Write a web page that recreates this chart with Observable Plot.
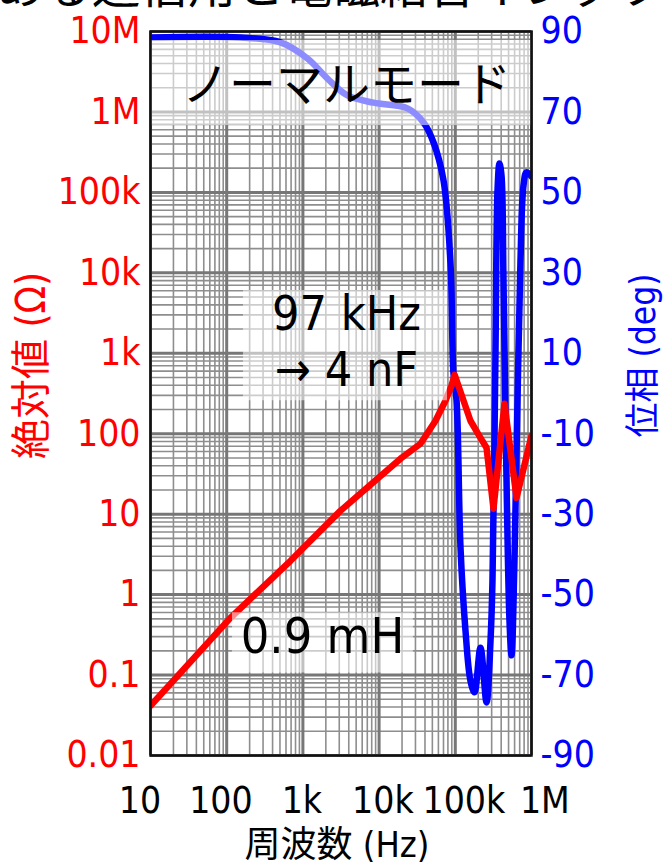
<!DOCTYPE html>
<html><head><meta charset="utf-8">
<script src="https://cdn.jsdelivr.net/npm/d3@7"></script>
<script src="https://cdn.jsdelivr.net/npm/@observablehq/plot@0.6"></script>
<style>
html,body{margin:0;padding:0;background:#fff;overflow:hidden;width:665px;height:864px}
#wrap{position:relative;width:665px;height:864px}
#title{position:absolute;left:-4px;top:-35px;font:48px/34px "Noto Sans CJK JP";white-space:nowrap;color:#000;z-index:2}
#chart{position:absolute;left:0;top:0}
</style></head><body>
<div id="wrap"><div id="chart"></div><div id="title">ある通信用と電磁結合インダクタ</div></div>
<script>
// ---- data ----
const freqRed = [10, 112, 688, 3100, 19100, 34900, 55000, 74300, 89100, 98000, 158000, 214000, 257000, 317000, 442000, 636000, 1000000];
const impedance = [0.0414, 0.514, 2.63, 11, 48.9, 75, 145, 257, 395, 540, 145, 89, 67, 11.7, 236, 16, 94];

const freqBlue = [10, 152, 508, 1148, 2100, 3850, 8450, 23600, 38300, 51800, 70000, 86500, 94600, 103800, 117000, 136000, 158000, 178500, 214000, 257000, 290000, 307600, 337000, 358000, 380000, 404000, 429000, 470000, 514000, 547000, 598000, 655000, 717000, 785000, 860000, 1000000];
const phase = [88.5, 88.5, 87.3, 83.3, 78.3, 74.1, 72.3, 70.9, 67.4, 62.4, 53.0, 32.3, 5.0, -1.7, -38.3, -58.9, -71.4, -74.3, -63.2, -76.8, -61.4, -46.5, 10.7, 50.5, 57.2, 54.2, 28.1, -21.6, -56.4, -65.1, -41.5, -1.7, 33.1, 51.7, 55.0, 54.0];

const xTicks = [10, 100, 1e3, 1e4, 1e5, 1e6];
const xTickLabels = ["10", "100", "1k", "10k", "100k", "1M"];
const yTicks = [0.01, 0.1, 1, 10, 100, 1e3, 1e4, 1e5, 1e6, 1e7];
const yTickLabels = ["0.01", "0.1", "1", "10", "100", "1k", "10k", "100k", "1M", "10M"];
const phaseTickLabels = ["-90", "-70", "-50", "-30", "-10", "10", "30", "50", "70", "90"];

const notes = [
  {f: 3730, z: 2.13e6, text: "ノーマルモード"},
  {f: 3730, z: 3020, text: "97 kHz"},
  {f: 3730, z: 608, text: "→ 4 nF"},
  {f: 1807, z: 0.299, text: "0.9 mH"}
];
const noteBoxes = [
  {f1: 10, f2: 1e6, z1: 6.77e5, z2: 7.73e6},
  {f1: 166, f2: 79000, z1: 257, z2: 6010},
  {f1: 119, f2: 28200, z1: 0.106, z2: 0.594}
];

// ---- build ----
const red = freqRed.map((f, i) => ({f, z: impedance[i]}));
const blue = freqBlue.map((f, i) => ({f, p: phase[i]}));
// phase (-90..90) shares the left log scale: 20 deg per decade from 0.01
const phaseToY = p => Math.pow(10, -2 + (p + 90) / 20);

const minorX = [], minorY = [];
for (let e = 1; e < 6; e++) for (let k = 2; k < 10; k++) minorX.push(k * 10 ** e);
for (let e = -2; e < 7; e++) for (let k = 2; k < 10; k++) minorY.push(k * 10 ** e);

const yLab = new Map(yTicks.map((d, i) => [d, yTickLabels[i]]));
const pLab = new Map(yTicks.map((d, i) => [d, phaseTickLabels[i]]));

const latin = '"DejaVu Sans Condensed", "DejaVu Sans", "Noto Sans CJK JP", sans-serif';

// bottom tick labels are spread slightly wider than the ticks in the reference
const xLabelMarks = xTicks.map((t, i) =>
  Plot.text([t], {x: d => d, text: () => xTickLabels[i], frameAnchor: "bottom", lineAnchor: "middle",
    dy: 46, dx: (i - 2) * 4.8 - 1, fontSize: 37, fill: "black"}));

const chart = Plot.plot({
  width: 665, height: 864,
  marginLeft: 150, marginRight: 134, marginTop: 31, marginBottom: 109,
  style: {fontFamily: latin, background: "white", overflow: "visible"},
  x: {type: "log", domain: [10, 1e6], axis: null},
  y: {type: "log", domain: [0.01, 1e7], axis: null},
  marks: [
    Plot.ruleX(minorX, {stroke: "#8e8e8e", strokeWidth: 1.6}),
    Plot.ruleY(minorY, {stroke: "#8e8e8e", strokeWidth: 1.6}),
    Plot.ruleX(xTicks, {stroke: "#777", strokeWidth: 3}),
    Plot.ruleY(yTicks, {stroke: "#777", strokeWidth: 3}),
    Plot.line(blue, {x: "f", y: d => phaseToY(d.p), stroke: "#0000ff", strokeWidth: 6.5, curve: "catmull-rom", clip: true}),
    Plot.line(red, {x: "f", y: "z", stroke: "#ff0000", strokeWidth: 6.5, clip: true}),
    Plot.rect(noteBoxes, {x1: "f1", x2: "f2", y1: "z1", y2: "z2", fill: "white", fillOpacity: 0.55}),
    Plot.text(notes.slice(0, 1), {x: "f", y: "z", text: "text", fontSize: 47, fontFamily: '"Noto Sans CJK JP"', fill: "black"}),
    Plot.text(notes.slice(1, 3), {x: "f", y: "z", text: "text", fontSize: 48, fill: "black"}),
    Plot.text(notes.slice(3), {x: "f", y: "z", text: "text", fontSize: 50, fill: "black"}),
    Plot.frame({stroke: "#111", strokeWidth: 2.5}),
    ...xLabelMarks,
    Plot.axisY(yTicks, {anchor: "left", tickSize: 0, tickPadding: 10, fontSize: 37, tickFormat: d => yLab.get(d), color: "#ff0000", label: null}),
    Plot.axisY(yTicks, {anchor: "right", tickSize: 0, tickPadding: 9, fontSize: 37, tickFormat: d => pLab.get(d), color: "#0000ff", label: null}),
    Plot.text(["絶対値 (Ω)"], {frameAnchor: "left", textAnchor: "middle", lineAnchor: "middle", dx: -118, dy: -28, rotate: -90, fontSize: 40, fill: "#ff0000"}),
    Plot.text(["位相 (deg)"], {frameAnchor: "right", textAnchor: "middle", lineAnchor: "middle", dx: 112, dy: -38, rotate: -90, fontSize: 35, fill: "#0000ff"}),
    Plot.text(["周波数 (Hz)"], {frameAnchor: "bottom", textAnchor: "middle", lineAnchor: "middle", dx: -4, dy: 90, fontSize: 36, fill: "black"})
  ]
});
document.getElementById("chart").appendChild(chart);
</script>
</body></html>
